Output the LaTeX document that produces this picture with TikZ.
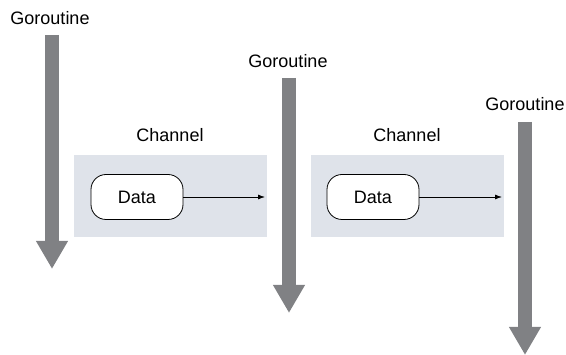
\documentclass[tikz,border=0pt]{standalone}
\usepackage{tikz}
\usepackage{xcolor}
\usepackage{fontspec}
\setmainfont{Liberation Sans}
\usetikzlibrary{arrows.meta}
\definecolor{threadgray}{RGB}{128, 129, 132}
\definecolor{chanblue}{RGB}{223, 227, 234}

\begin{document}
\begin{tikzpicture}[x=1pt,y=-1pt,
        label/.style={font=\fontsize{18}{22}\selectfont},
        thread/.style={draw=threadgray,line width=14pt,
            -{Triangle[width=30pt,length=28pt]}},
        chanbox/.style={fill=chanblue,draw=none},
        data/.style={draw,line width=0.8pt,fill=white,rounded corners=15pt,
            minimum width=92pt,minimum height=45pt,
            font=\fontsize{18}{22}\selectfont},
        flow/.style={line width=0.8pt,-{Latex[length=7pt,width=5pt]}}]
        \useasboundingbox (0,0) rectangle (566,355);

        % the three goroutines
        \node[label] (go1) at (50,18) {Goroutine};
        \node[label] (go2) at (288,61) {Goroutine};
        \node[label] (go3) at (525,104) {Goroutine};
        \coordinate (go1top) at (52,35);
        \coordinate (go1end) at (52,269);
        \coordinate (go2top) at (289,78);
        \coordinate (go2end) at (289,313);
        \coordinate (go3top) at (525,122);
        \coordinate (go3end) at (525,355);
        \draw[thread] (go1top) -- (go1end);
        \draw[thread] (go2top) -- (go2end);
        \draw[thread] (go3top) -- (go3end);

        % the two channels
        \node[label] (ch1) at (170,135) {Channel};
        \node[label] (ch2) at (407,135) {Channel};
        \fill[chanbox] (74,155) rectangle (267,237);
        \fill[chanbox] (311,155) rectangle (504,237);
        \node[data] (data1) at (137,197) {Data};
        \node[data] (data2) at (373,197) {Data};
        \coordinate (out1) at (265,197);
        \coordinate (out2) at (502,197);
        \draw[flow] (data1) -- (out1);
        \draw[flow] (data2) -- (out2);
    \end{tikzpicture}
\end{document}
